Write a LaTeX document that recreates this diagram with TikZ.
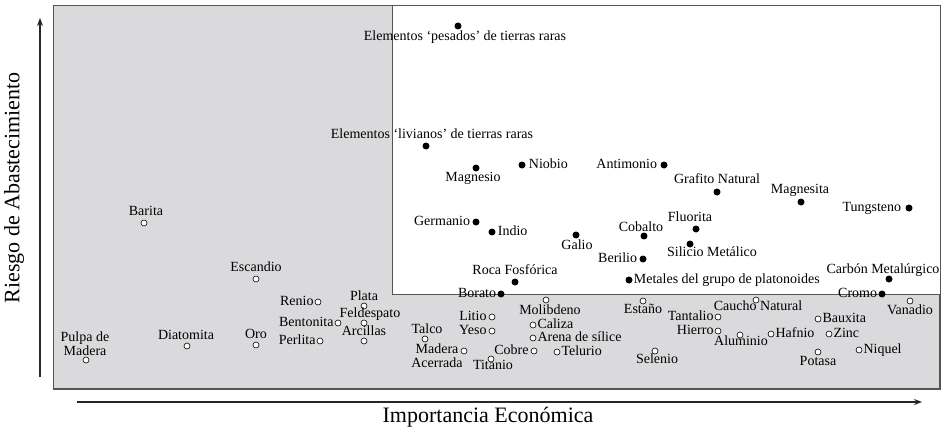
\documentclass[tikz,border=0pt]{standalone}
\usepackage{fontspec}
\setmainfont{Liberation Serif}
\usepackage{xcolor}
\usepackage{tikz}
\usetikzlibrary{positioning,arrows.meta}
\definecolor{PanelGray}{RGB}{218,218,220}
\definecolor{FrameGray}{RGB}{85,85,85}

\begin{document}
\begin{tikzpicture}[x=1pt, y=-1pt,
                % Marcadores
                fulldot/.style={circle, fill=black, draw=none, minimum size=7pt, inner sep=0pt},
                opendot/.style={circle, fill=white, draw=black, line width=0.6pt, minimum size=6pt, inner sep=0pt},
                % Etiquetas
                lbl/.style={inner sep=0pt, font=\fontsize{14}{14}\selectfont, text height=8pt, text depth=2pt},
                lbl2/.style={inner sep=0pt, font=\fontsize{14}{14}\selectfont, align=center},
                axislbl/.style={inner sep=0pt, font=\fontsize{22}{22}\selectfont},
                % Ejes
                axis/.style={-{Stealth[length=8pt,width=6pt]}, line width=1.2pt, draw=black!85}
            ]
                \useasboundingbox (0,0) rectangle (941,428);

                % --- ZONAS ---
                \draw[fill=PanelGray, draw=FrameGray, line width=1.2pt] (53.5,5.5) rectangle (940,389);
                \draw[fill=white, draw=FrameGray, line width=0.9pt] (392,5.5) rectangle (940,294);

                % --- EJES ---
                \coordinate (y0) at (40,377);
                \coordinate (y1) at (40,18);
                \coordinate (x0) at (77,402);
                \coordinate (x1) at (922,402);
                \draw[axis] (y0) -- (y1);
                \draw[axis] (x0) -- (x1);
                \node[axislbl, rotate=90] (ylab) at (14,188) {Riesgo de Abastecimiento};
                \node[axislbl] (xlab) at (488,417) {Importancia Económica};

                % --- MATERIAS CRÍTICAS (puntos llenos) ---
                \node[fulldot] (pesados) at (458,26) {};
                \node[fulldot] (livianos) at (426,146) {};
                \node[fulldot] (magnesio) at (476,168) {};
                \node[fulldot] (niobio) at (522,165) {};
                \node[fulldot] (antimonio) at (664,165) {};
                \node[fulldot] (grafito) at (717,192) {};
                \node[fulldot] (magnesita) at (801,202) {};
                \node[fulldot] (tungsteno) at (909,208) {};
                \node[fulldot] (germanio) at (476,222) {};
                \node[fulldot] (indio) at (492,232) {};
                \node[fulldot] (galio) at (576,235) {};
                \node[fulldot] (cobalto) at (644,236) {};
                \node[fulldot] (fluorita) at (696,229) {};
                \node[fulldot] (silicio) at (690,244) {};
                \node[fulldot] (berilio) at (643,259) {};
                \node[fulldot] (roca) at (515,282) {};
                \node[fulldot] (metales) at (629,280) {};
                \node[fulldot] (borato) at (501,294) {};
                \node[fulldot] (carbon) at (889,279) {};
                \node[fulldot] (cromo) at (882,294) {};

                % --- RESTO (puntos vacíos) ---
                \node[opendot] (barita) at (144,223) {};
                \node[opendot] (escandio) at (256,279) {};
                \node[opendot] (pulpa) at (86,360) {};
                \node[opendot] (diatomita) at (187,346) {};
                \node[opendot] (oro) at (256,345) {};
                \node[opendot] (renio) at (318,302) {};
                \node[opendot] (bentonita) at (338,323) {};
                \node[opendot] (perlita) at (320,341) {};
                \node[opendot] (plata) at (364,306) {};
                \node[opendot] (feldespato) at (364,323) {};
                \node[opendot] (arcillas) at (364,341) {};
                \node[opendot] (talco) at (425,339) {};
                \node[opendot] (madera) at (464,351) {};
                \node[opendot] (litio) at (492,317) {};
                \node[opendot] (yeso) at (492,331) {};
                \node[opendot] (cobre) at (534,351) {};
                \node[opendot] (titanio) at (491,359) {};
                \node[opendot] (molibdeno) at (546,300) {};
                \node[opendot] (caliza) at (533,325) {};
                \node[opendot] (arena) at (533,338) {};
                \node[opendot] (telurio) at (557,352) {};
                \node[opendot] (estano) at (643,301) {};
                \node[opendot] (selenio) at (655,351) {};
                \node[opendot] (caucho) at (756,300) {};
                \node[opendot] (tantalio) at (718,317) {};
                \node[opendot] (hierro) at (718,331) {};
                \node[opendot] (aluminio) at (740,335) {};
                \node[opendot] (hafnio) at (771,334) {};
                \node[opendot] (bauxita) at (818,319) {};
                \node[opendot] (zinc) at (829,334) {};
                \node[opendot] (potasa) at (818,352) {};
                \node[opendot] (niquel) at (859,350) {};
                \node[opendot] (vanadio) at (910,301) {};

                % --- ETIQUETAS (críticas) ---
                \node[lbl] (pesados-l) at (465,38) {Elementos ‘pesados’ de tierras raras};
                \node[lbl] (livianos-l) at (432,135) {Elementos ‘livianos’ de tierras raras};
                \node[lbl] (magnesio-l) at (473,178) {Magnesio};
                \node[lbl, right=3pt of niobio] (niobio-l) {Niobio};
                \node[lbl, left=3pt of antimonio] (antimonio-l) {Antimonio};
                \node[lbl] (grafito-l) at (717,180) {Grafito Natural};
                \node[lbl] (magnesita-l) at (800,190) {Magnesita};
                \node[lbl, left=4pt of tungsteno] (tungsteno-l) {Tungsteno};
                \node[lbl, left=2pt of germanio] (germanio-l) {Germanio};
                \node[lbl, right=2pt of indio] (indio-l) {Indio};
                \node[lbl] (galio-l) at (577,246) {Galio};
                \node[lbl] (cobalto-l) at (641,228) {Cobalto};
                \node[lbl] (fluorita-l) at (690,218) {Fluorita};
                \node[lbl] (silicio-l) at (712,253) {Silicio Metálico};
                \node[lbl, left=2pt of berilio] (berilio-l) {Berilio};
                \node[lbl] (roca-l) at (515,271) {Roca Fosfórica};
                \node[lbl, right=1pt of metales] (metales-l) {Metales del grupo de platonoides};
                \node[lbl, left=1pt of borato] (borato-l) {Borato};
                \node[lbl] (carbon-l) at (883,270) {Carbón Metalúrgico};
                \node[lbl, left=1pt of cromo] (cromo-l) {Cromo};

                % --- ETIQUETAS (resto) ---
                \node[lbl] (barita-l) at (146,212) {Barita};
                \node[lbl] (escandio-l) at (256,268) {Escandio};
                \node[lbl2] (pulpa-l) at (85,344) {Pulpa de\\Madera};
                \node[lbl] (diatomita-l) at (186,336) {Diatomita};
                \node[lbl] (oro-l) at (256,335) {Oro};
                \node[lbl, left=1pt of renio] (renio-l) {Renio};
                \node[lbl, left=1pt of bentonita] (bentonita-l) {Bentonita};
                \node[lbl, left=1pt of perlita] (perlita-l) {Perlita};
                \node[lbl] (plata-l) at (364,297) {Plata};
                \node[lbl] (feldespato-l) at (370,314) {Feldespato};
                \node[lbl] (arcillas-l) at (364,332) {Arcillas};
                \node[lbl] (talco-l) at (427,330) {Talco};
                \node[lbl2] (madera-l) at (437,356) {Madera\\Acerrada};
                \node[lbl, left=2pt of litio] (litio-l) {Litio};
                \node[lbl, left=2pt of yeso] (yeso-l) {Yeso};
                \node[lbl, left=2pt of cobre] (cobre-l) {Cobre};
                \node[lbl] (titanio-l) at (493,366) {Titanio};
                \node[lbl] (molibdeno-l) at (550,311) {Molibdeno};
                \node[lbl, right=1pt of caliza] (caliza-l) {Caliza};
                \node[lbl, right=1pt of arena] (arena-l) {Arena de sílice};
                \node[lbl, right=1pt of telurio] (telurio-l) {Telurio};
                \node[lbl] (estano-l) at (643,310) {Estaño};
                \node[lbl] (selenio-l) at (657,360) {Selenio};
                \node[lbl] (caucho-l) at (758,307) {Caucho Natural};
                \node[lbl, left=1pt of tantalio] (tantalio-l) {Tantalio};
                \node[lbl, left=1pt of hierro] (hierro-l) {Hierro};
                \node[lbl] (aluminio-l) at (741,342) {Aluminio};
                \node[lbl, right=1pt of hafnio] (hafnio-l) {Hafnio};
                \node[lbl, right=1pt of bauxita] (bauxita-l) {Bauxita};
                \node[lbl, right=1pt of zinc] (zinc-l) {Zinc};
                \node[lbl] (potasa-l) at (818,362) {Potasa};
                \node[lbl, right=1pt of niquel] (niquel-l) {Niquel};
                \node[lbl] (vanadio-l) at (910,311) {Vanadio};

            \end{tikzpicture}
\end{document}
